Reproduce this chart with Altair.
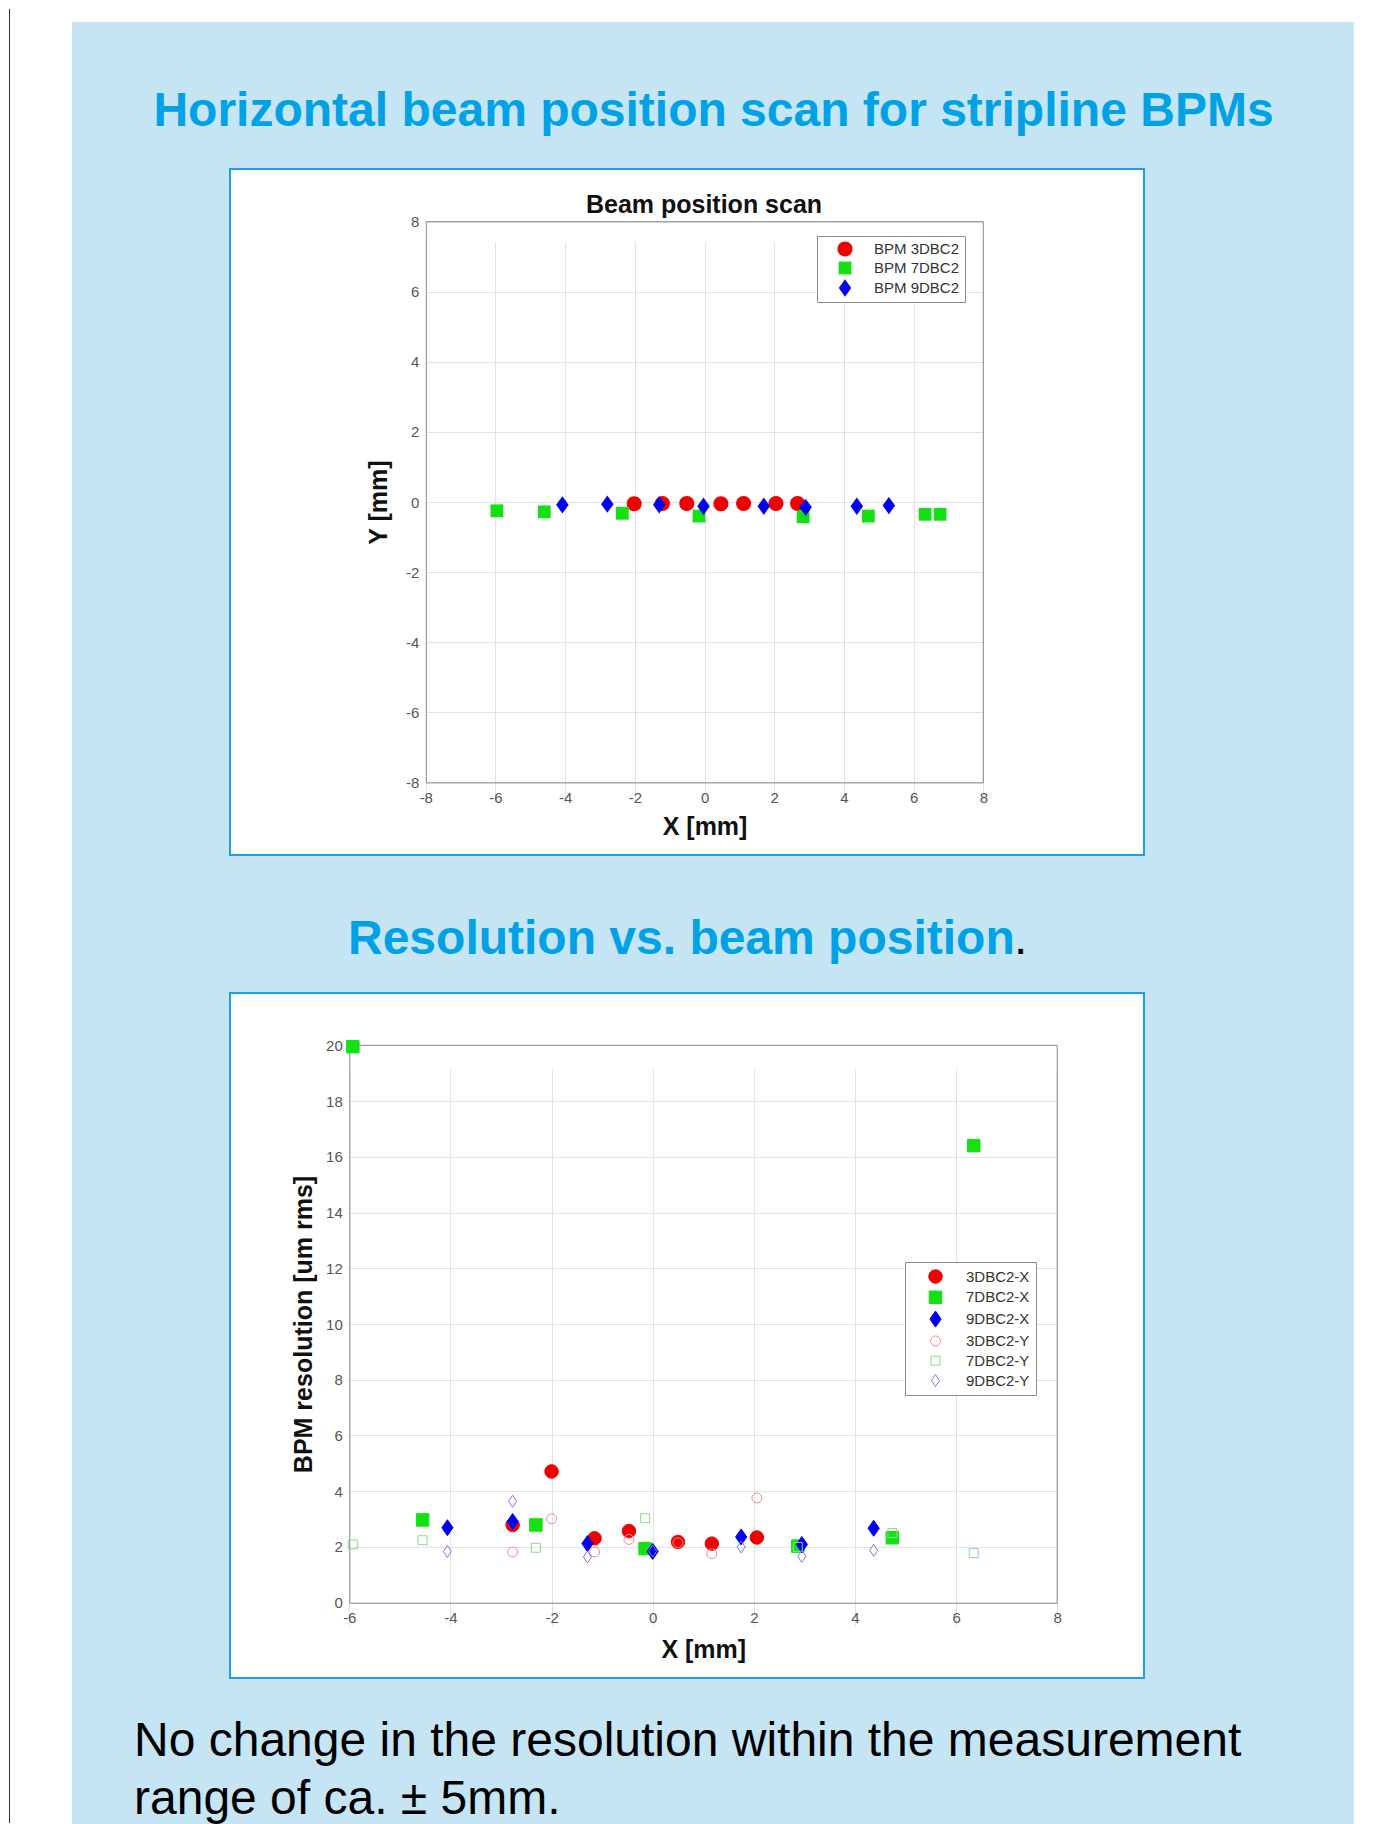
import altair as alt
import pandas as pd

FONT = "Liberation Sans"
BLUE_BG = "#c5e4f4"
HEAD_BLUE = "#00a2e5"
BOX_BORDER = "#1e9fe6"
GRID = "#e2e2e2"
AXLINE = "#8a8a8a"

# ---------------- texts ----------------
heading = "Horizontal beam position scan for stripline BPMs"
subheading = "Resolution vs. beam position"
footer_1 = "No change in the resolution within the measurement"
footer_2 = "range of ca. \u00b1 5mm."
top_title = "Beam position scan"

# ---------------- top chart data (X [mm], Y [mm]) ----------------
bpm3_x = [-2.02, -1.21, -0.51, 0.47, 1.12, 2.05, 2.67]
bpm3_y = [-0.05, -0.04, -0.04, -0.05, -0.04, -0.04, -0.04]
bpm7_x = [-5.96, -4.60, -2.36, -0.16, 2.83, 4.70, 6.33, 6.76]
bpm7_y = [-0.25, -0.28, -0.32, -0.40, -0.42, -0.40, -0.35, -0.35]
bpm9_x = [-4.08, -2.79, -1.30, -0.03, 1.70, 2.90, 4.37, 5.29]
bpm9_y = [-0.08, -0.06, -0.08, -0.12, -0.12, -0.15, -0.12, -0.10]
top_series = ["BPM 3DBC2", "BPM 7DBC2", "BPM 9DBC2"]
top_ticks = [-8, -6, -4, -2, 0, 2, 4, 6, 8]

# ---------------- bottom chart data (X [mm], resolution [um rms]) ----------------
res3_pos = [-2.77, -2.00, -1.15, -0.47, 0.50, 1.17, 2.06]
res3_x = [2.79, 4.71, 2.31, 2.57, 2.18, 2.12, 2.34]
res3_y = [1.82, 3.01, 1.82, 2.27, 2.15, 1.76, 3.76]
res7_pos = [-5.93, -4.55, -2.31, -0.15, 2.87, 4.74, 6.35]
res7_x = [19.95, 2.97, 2.79, 1.94, 2.03, 2.33, 16.40]
res7_y = [2.09, 2.24, 1.97, 3.03, 2.00, 2.50, 1.78]
res9_pos = [-4.06, -2.77, -1.29, 0.00, 1.75, 2.95, 4.37]
res9_x = [2.69, 2.91, 2.12, 1.84, 2.36, 2.09, 2.67]
res9_y = [1.84, 3.64, 1.64, 1.85, 2.00, 1.66, 1.88]
bot_series = ["3DBC2-X", "7DBC2-X", "9DBC2-X", "3DBC2-Y", "7DBC2-Y", "9DBC2-Y"]
bot_xticks = [-6, -4, -2, 0, 2, 4, 6, 8]
bot_yticks = [0, 2, 4, 6, 8, 10, 12, 14, 16, 18, 20]


# symbol outlines (unit paths; all drawn with size 256 -> 8 px per unit)
def circle_path(r):
    return f"M{r},0A{r},{r},0,1,1,{-r},0A{r},{r},0,1,1,{r},0Z"


def square_path(h):
    return f"M{-h},{-h}H{h}V{h}H{-h}Z"


def diamond_path(w, h):
    return f"M0,{-h}L{w},0L0,{h}L{-w},0Z"


SYM = 256
top_shapes = [circle_path(0.94), square_path(0.8), diamond_path(0.78, 1.08)]
bot_shapes = [circle_path(0.84), square_path(0.78), diamond_path(0.7, 1.0),
              circle_path(0.62), square_path(0.56), diamond_path(0.5, 0.75)]

# ---------------- tables ----------------
rows = []
for name, xs, ys in [(top_series[0], bpm3_x, bpm3_y),
                     (top_series[1], bpm7_x, bpm7_y),
                     (top_series[2], bpm9_x, bpm9_y)]:
    for a, b in zip(xs, ys):
        rows.append({"series": name, "x": a, "y": b})
top_df = pd.DataFrame(rows)

rows = []
for name, xs, ys in [(bot_series[0], res3_pos, res3_x),
                     (bot_series[1], res7_pos, res7_x),
                     (bot_series[2], res9_pos, res9_x),
                     (bot_series[3], res3_pos, res3_y),
                     (bot_series[4], res7_pos, res7_y),
                     (bot_series[5], res9_pos, res9_y)]:
    for a, b in zip(xs, ys):
        rows.append({"series": name, "x": a, "y": b})
bot_df = pd.DataFrame(rows)

INDEP = dict(x="independent", y="independent", color="independent",
             fill="independent", stroke="independent", shape="independent")


def axis(vals, title, offset, is_x, title_off):
    kw = dict(values=vals, title=title, offset=offset, grid=True, gridColor=GRID,
              gridWidth=1, domainColor=AXLINE, domainWidth=1, ticks=False,
              labelFont=FONT, labelFontSize=15, labelColor="#555555",
              labelExpr="'' + datum.value", labelFlush=False, labelOverlap=False,
              titleFont=FONT, titleFontSize=25, titleFontWeight="bold",
              titleColor="#111111", titleBaseline="middle")
    if is_x:
        kw.update(labelPadding=8, titleY=title_off)
    else:
        kw.update(labelPadding=7, titleX=title_off)
    return alt.Axis(**kw)


def frame_rules(xs, ys, xsc, ysc):
    top = pd.DataFrame({"x": [xs[0]], "x2": [xs[1]], "y": [ys[1]]})
    right = pd.DataFrame({"x": [xs[1]], "y": [ys[0]], "y2": [ys[1]]})
    r1 = alt.Chart(top).mark_rule(color=AXLINE, strokeWidth=1).encode(
        x=alt.X("x:Q", scale=xsc), x2="x2:Q", y=alt.Y("y:Q", scale=ysc))
    r2 = alt.Chart(right).mark_rule(color=AXLINE, strokeWidth=1).encode(
        x=alt.X("x:Q", scale=xsc), y=alt.Y("y:Q", scale=ysc), y2="y2:Q")
    return r1, r2


def blank(w, h, fill=None):
    base = alt.Chart(pd.DataFrame({"d": [0]})).mark_point(
        opacity=0, size=1, strokeWidth=0).encode(
        x=alt.value(w / 2), y=alt.value(h / 2))
    if fill:
        view = alt.ViewBackground(fill=fill, strokeWidth=0)
    else:
        view = alt.ViewBackground(strokeWidth=0)
    return base.properties(width=w, height=h, view=view)


# ---------------- top chart ----------------
x1s = alt.Scale(domain=[-8, 8], range=[195.8, 753.3], nice=False, zero=False)
y1s = alt.Scale(domain=[-8, 8], range=[613.4, 52.7], nice=False, zero=False)
leg1 = alt.Legend(orient="none", legendX=587, legendY=67, padding=5,
                  symbolOffset=15, labelOffset=21, rowPadding=3, symbolSize=SYM,
                  labelFont=FONT, labelFontSize=15, labelColor="#333333",
                  strokeColor="#8c8c8c", fillColor="white", symbolStrokeWidth=0)
pts1 = alt.Chart(top_df).mark_point(filled=True, opacity=1, size=SYM).encode(
    x=alt.X("x:Q", scale=x1s, axis=axis(top_ticks, "X [mm]", -72.6, True, 44)),
    y=alt.Y("y:Q", scale=y1s, axis=axis(top_ticks, "Y [mm]", -195.8, False, -47)),
    color=alt.Color("series:N", title=None, legend=leg1,
                    scale=alt.Scale(domain=top_series, range=["#ee0000", "#14e014", "#0000ee"])),
    shape=alt.Shape("series:N", title=None, legend=leg1,
                    scale=alt.Scale(domain=top_series, range=top_shapes)),
)
r1a, r1b = frame_rules([-8, 8], [-8, 8], x1s, y1s)
t1 = alt.Chart(pd.DataFrame({"t": [top_title]})).mark_text(
    font=FONT, fontSize=25, fontWeight="bold", color="#111111",
    align="center", baseline="alphabetic").encode(
    x=alt.value(474), y=alt.value(44), text="t:N")
chart1 = alt.layer(r1a, r1b, pts1, t1).properties(
    width=914, height=686,
    view=alt.ViewBackground(fill="white", stroke=BOX_BORDER, strokeWidth=2))

# ---------------- bottom chart ----------------
x2s = alt.Scale(domain=[-6, 8], range=[119.3, 827.2], nice=False, zero=False)
y2s = alt.Scale(domain=[0, 20], range=[609.7, 52.3], nice=False, zero=False)
leg2 = alt.Legend(orient="none", legendX=675, legendY=269, padding=6,
                  symbolOffset=16, labelOffset=22, rowPadding=2.8, symbolSize=SYM,
                  labelFont=FONT, labelFontSize=15, labelColor="#333333",
                  strokeColor="#8c8c8c", fillColor="white", symbolStrokeWidth=1)
pts2 = alt.Chart(bot_df).mark_point(opacity=1, strokeWidth=1, size=SYM).encode(
    x=alt.X("x:Q", scale=x2s, axis=axis(bot_xticks, "X [mm]", -75.3, True, 47)),
    y=alt.Y("y:Q", scale=y2s, axis=axis(bot_yticks, "BPM resolution [um rms]", -119.3, False, -46)),
    fill=alt.Fill("series:N", title=None, legend=leg2,
                  scale=alt.Scale(domain=bot_series,
                                  range=["#ee0000", "#14e014", "#0000ee",
                                         "transparent", "transparent", "transparent"])),
    stroke=alt.Stroke("series:N", title=None, legend=leg2,
                      scale=alt.Scale(domain=bot_series,
                                      range=["#ee0000", "#14e014", "#0000ee",
                                             "#ee8a8a", "#8ad88a", "#7a7ae2"])),
    shape=alt.Shape("series:N", title=None, legend=leg2,
                    scale=alt.Scale(domain=bot_series, range=bot_shapes)),
)
r2a, r2b = frame_rules([-6, 8], [0, 20], x2s, y2s)
chart2 = alt.layer(r2a, r2b, pts2).properties(
    width=914, height=685,
    view=alt.ViewBackground(fill="white", stroke=BOX_BORDER, strokeWidth=2))

# ---------------- bands (transparent; the page background is the blue panel) ----------------
band_view = alt.ViewBackground(strokeWidth=0)

header = alt.Chart(pd.DataFrame({"t": [heading]})).mark_text(
    font=FONT, fontSize=48, fontWeight="bold", color=HEAD_BLUE,
    align="center", baseline="alphabetic").encode(
    x=alt.value(641.5), y=alt.value(104), text="t:N").properties(
    width=1282, height=146, view=band_view)

sub_a = alt.Chart(pd.DataFrame({"t": [subheading]})).mark_text(
    font=FONT, fontSize=48, fontWeight="bold", color=HEAD_BLUE,
    align="left", baseline="alphabetic").encode(
    x=alt.value(276), y=alt.value(96.5), text="t:N")
sub_b = alt.Chart(pd.DataFrame({"t": ["."]})).mark_text(
    font=FONT, fontSize=48, color="#000000",
    align="left", baseline="alphabetic").encode(
    x=alt.value(942), y=alt.value(96.5), text="t:N")
subband = alt.layer(sub_a, sub_b).properties(width=1282, height=135, view=band_view)

foot_a = alt.Chart(pd.DataFrame({"t": [footer_1]})).mark_text(
    font=FONT, fontSize=48, color="#000000", align="left", baseline="alphabetic").encode(
    x=alt.value(62), y=alt.value(76), text="t:N")
foot_b = alt.Chart(pd.DataFrame({"t": [footer_2]})).mark_text(
    font=FONT, fontSize=48, color="#000000", align="left", baseline="alphabetic").encode(
    x=alt.value(62), y=alt.value(134), text="t:N")
footband = alt.layer(foot_a, foot_b).properties(width=1282, height=146, view=band_view)

row1 = alt.hconcat(blank(157, 688), chart1, blank(209, 688),
                   spacing=0).resolve_scale(**INDEP)
row2 = alt.hconcat(blank(157, 687), chart2, blank(209, 687),
                   spacing=0).resolve_scale(**INDEP)

main = alt.vconcat(blank(1282, 14, "white"), header, row1, subband, row2, footband,
                   spacing=0).resolve_scale(**INDEP)

# white page margin on the left with the thin dark rule, white strip on the right
left = alt.Chart(pd.DataFrame({"d": [0]})).mark_rule(color="#333333", strokeWidth=1).encode(
    x=alt.value(1.5), y=alt.value(1), y2=alt.value(1815)).properties(
    width=64, height=1816, view=alt.ViewBackground(fill="white", strokeWidth=0))
right = blank(32, 1816, "white")

chart = alt.hconcat(left, main, right, spacing=0).resolve_scale(**INDEP).properties(
    padding=0, background=BLUE_BG).configure(font=FONT)

chart.save("out.html", embed_options={"renderer": "svg", "actions": False})
